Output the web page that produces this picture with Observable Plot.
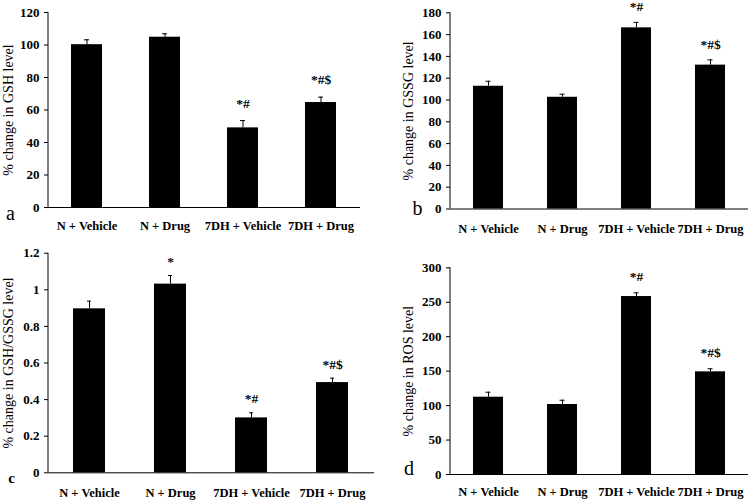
<!DOCTYPE html>
<html>
<head>
<meta charset="utf-8">
<script src="https://cdn.jsdelivr.net/npm/d3@7"></script>
<script src="https://cdn.jsdelivr.net/npm/@observablehq/plot@0.6"></script>
<style>
  html, body { margin: 0; padding: 0; background: white; }
  #chart { position: relative; width: 750px; height: 500px; overflow: hidden; background: white; }
  #chart svg { position: absolute; }
</style>
</head>
<body>
<div id="chart"></div>
<script>
// ---- data ----
const groups = ["N + Vehicle", "N + Drug", "7DH + Vehicle", "7DH + Drug"];

const gshMean  = [100.2, 104.8, 49.0, 64.6];
const gshSE    = [3.0, 2.1, 4.5, 3.3];
const gshSig   = ["", "", "*#", "*#$"];

const gssgMean = [112.6, 102.5, 166.2, 132.0];
const gssgSE   = [4.6, 2.8, 5.0, 4.8];
const gssgSig  = ["", "", "*#", "*#$"];

const ratioMean = [0.896, 1.031, 0.300, 0.493];
const ratioSE   = [0.042, 0.047, 0.028, 0.024];
const ratioSig  = ["", "*", "*#", "*#$"];

const rosMean  = [112.2, 101.6, 258.3, 149.0];
const rosSE    = [7.2, 6.2, 5.4, 4.4];
const rosSig   = ["", "", "*#", "*#$"];

const gshTicks   = [0, 20, 40, 60, 80, 100, 120];
const gssgTicks  = [0, 20, 40, 60, 80, 100, 120, 140, 160, 180];
const ratioTicks = [0, 0.2, 0.4, 0.6, 0.8, 1, 1.2];
const rosTicks   = [0, 50, 100, 150, 200, 250, 300];

const yLabels = ["% change in GSH level", "% change in GSSG level", "% change in GSH/GSSG level", "% change in ROS level"];
const letters = ["a", "b", "c", "d"];

// ---- layout (styles / positions) ----
const serif = "'Liberation Serif', 'Times New Roman', Times, serif";

function panel(cfg) {
  const data = groups.map((g, i) => ({
    group: g, value: cfg.mean[i], err: cfg.mean[i] + cfg.se[i], sig: cfg.sig[i]
  }));
  const yAxisLine = (index, scales, values, dims) => {
    const l = dims.marginLeft;
    return d3.create("svg:line")
      .attr("x1", l).attr("x2", l)
      .attr("y1", dims.marginTop).attr("y2", dims.height - dims.marginBottom)
      .attr("stroke", "black").attr("stroke-width", 1)
      .node();
  };
  const svg = Plot.plot({
    width: 375, height: 250,
    marginLeft: cfg.ml, marginRight: cfg.mr, marginTop: cfg.mt, marginBottom: cfg.mb,
    style: { fontFamily: serif, fontSize: "12px", overflow: "visible", background: "transparent", color: "black" },
    x: { domain: groups, paddingInner: 0.6, paddingOuter: 0.3, align: 0.5 },
    y: { domain: [0, cfg.ticks[cfg.ticks.length - 1]] },
    marks: [
      Plot.barY(data, { x: "group", y: "value", fill: "black" }),
      Plot.ruleX(data, { x: "group", y1: "value", y2: "err", stroke: "black", strokeWidth: 1 }),
      Plot.tickY(data, { x: "group", y: "err", insetLeft: cfg.capInset, insetRight: cfg.capInset, stroke: "black", strokeWidth: 1 }),
      Plot.text(data.filter(d => d.sig), { x: "group", y: "err", text: "sig", dy: cfg.annDy, fontWeight: "bold", fontSize: 13.5, fill: "black" }),
      Plot.ruleY([0], { stroke: "black" }),
      yAxisLine,
      Plot.axisY({ ticks: cfg.ticks, tickSize: 4, tickPadding: 5, tickFormat: cfg.fmt, fontWeight: "bold", fontSize: 13, label: null, fill: "black" }),
      Plot.axisX({ tickSize: 0, tickPadding: cfg.xPad, fontWeight: "bold", fontSize: 12.5, label: null, fill: "black" }),
      Plot.text([cfg.yLabel], { frameAnchor: "left", textAnchor: "middle", lineAnchor: "middle", rotate: -90, dx: cfg.labelDx, fontSize: 14, fill: "black" }),
      Plot.text([cfg.letter], { frameAnchor: "bottom-left", textAnchor: "middle", lineAnchor: "middle", dx: cfg.letterDx, dy: cfg.letterDy, fontSize: cfg.letterSize, fontWeight: cfg.letterWeight, fill: "black" })
    ]
  });
  svg.style.left = cfg.left + "px";
  svg.style.top = cfg.top + "px";
  return svg;
}

const chart = document.getElementById("chart");
const intFmt = d => String(d);
const decFmt = d => String(+d.toFixed(1));

chart.appendChild(panel({
  mean: gshMean, se: gshSE, sig: gshSig, ticks: gshTicks, fmt: intFmt, yLabel: yLabels[0], letter: letters[0],
  left: 0, top: 0, ml: 48, mr: 15, mt: 12, mb: 43, xPad: 14, capInset: 13, annDy: -17,
  labelDx: -40, letterDx: -38, letterDy: 6, letterSize: 20, letterWeight: "normal"
}));
chart.appendChild(panel({
  mean: gssgMean, se: gssgSE, sig: gssgSig, ticks: gssgTicks, fmt: intFmt, yLabel: yLabels[1], letter: letters[1],
  left: 375, top: 0, ml: 75, mr: 2, mt: 12.3, mb: 41.5, xPad: 15, capInset: 12.5, annDy: -15.5,
  labelDx: -42, letterDx: -33, letterDy: 0, letterSize: 20, letterWeight: "normal"
}));
chart.appendChild(panel({
  mean: ratioMean, se: ratioSE, sig: ratioSig, ticks: ratioTicks, fmt: decFmt, yLabel: yLabels[2], letter: letters[2],
  left: 0, top: 250, ml: 48, mr: 1, mt: 2.7, mb: 27.7, xPad: 15, capInset: 14, annDy: -14,
  labelDx: -40, letterDx: -37, letterDy: 5, letterSize: 15, letterWeight: "bold"
}));
chart.appendChild(panel({
  mean: rosMean, se: rosSE, sig: rosSig, ticks: rosTicks, fmt: intFmt, yLabel: yLabels[3], letter: letters[3],
  left: 375, top: 250, ml: 75, mr: 2, mt: 17.3, mb: 26, xPad: 13, capInset: 12.5, annDy: -16,
  labelDx: -42, letterDx: -41.5, letterDy: -6.4, letterSize: 20, letterWeight: "normal"
}));
</script>
</body>
</html>
